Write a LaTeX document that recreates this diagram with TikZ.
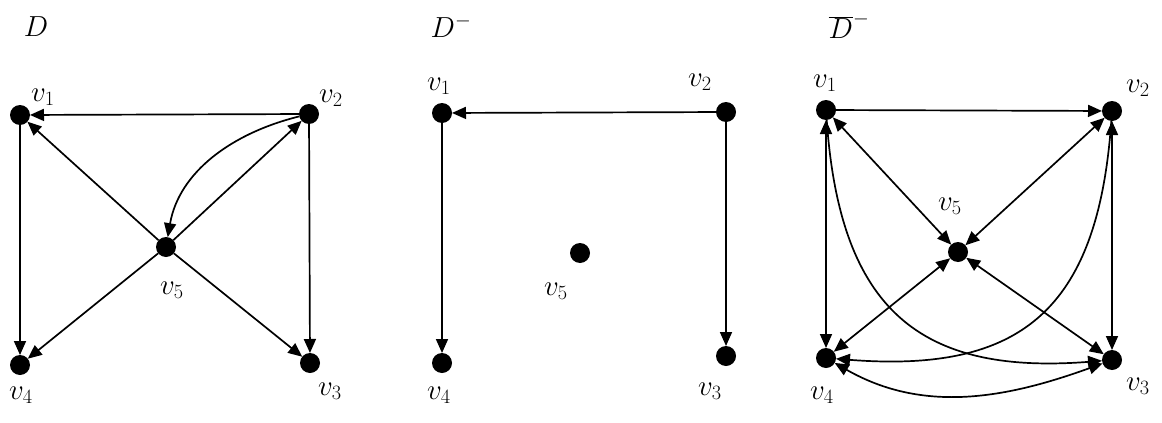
\documentclass[tikz,border=0pt]{standalone}
\usepackage{fix-cm}
\usetikzlibrary{arrows.meta}
\begin{document}
\begin{tikzpicture}[x=1pt, y=-1pt,
  dot/.style={circle, fill=black, inner sep=0pt, minimum size=20pt, outer sep=0pt},
  lbl/.style={font=\fontsize{29}{34}\selectfont, inner sep=0pt},
  arc/.style={line width=1.7pt, -{Triangle[length=14pt,width=12pt]}},
  both/.style={line width=1.7pt, {Triangle[length=14pt,width=12pt]}-{Triangle[length=14pt,width=12pt]}}]
\useasboundingbox (0,0) rectangle (1162,423);

% ---------- digraph D ----------
\node[lbl] (tD) at (36,27) {$D$};
\node[dot] (a1) at (20,115) {};
\node[dot] (a2) at (309,114) {};
\node[dot] (a3) at (310,363) {};
\node[dot] (a4) at (20,365) {};
\node[dot] (a5) at (166,247) {};
\node[lbl] (la1) at (43,97) {$v_1$};
\node[lbl] (la2) at (331,98) {$v_2$};
\node[lbl] (la3) at (330,391) {$v_3$};
\node[lbl] (la4) at (21,395) {$v_4$};
\node[lbl] (la5) at (172,290) {$v_5$};
\draw[arc] (a2) -- (a1);
\draw[arc] (a1) -- (a4);
\draw[arc] (a2) -- (a3);
\draw[arc] (a5) -- (a1);
\draw[arc] (a5) -- (a2);
\draw[arc] (a5) -- (a4);
\draw[arc] (a5) -- (a3);
\draw[arc] (a2) .. controls (232,133) and (179,172) .. (a5);

% ---------- digraph D^- ----------
\node[lbl] (tDm) at (451,26) {$D^{-}$};
\node[dot] (b1) at (442,113) {};
\node[dot] (b2) at (726,112) {};
\node[dot] (b3) at (726,356) {};
\node[dot] (b4) at (442,363) {};
\node[dot] (b5) at (580,253) {};
\node[lbl] (lb1) at (439,86) {$v_1$};
\node[lbl] (lb2) at (700,82) {$v_2$};
\node[lbl] (lb3) at (710,391) {$v_3$};
\node[lbl] (lb4) at (439,395) {$v_4$};
\node[lbl] (lb5) at (556,291) {$v_5$};
\draw[arc] (b2) -- (b1);
\draw[arc] (b1) -- (b4);
\draw[arc] (b2) -- (b3);

% ---------- complement of D^- ----------
\node[lbl] (tDc) at (849,26) {$\overline{D}^{-}$};
\node[dot] (c1) at (826,110) {};
\node[dot] (c2) at (1112,111) {};
\node[dot] (c3) at (1112,360) {};
\node[dot] (c4) at (826,358) {};
\node[dot] (c5) at (958,252) {};
\node[lbl] (lc1) at (825,83) {$v_1$};
\node[lbl] (lc2) at (1138,88) {$v_2$};
\node[lbl] (lc3) at (1138,386) {$v_3$};
\node[lbl] (lc4) at (822,395) {$v_4$};
\node[lbl] (lc5) at (950,206) {$v_5$};
\draw[arc] (c1) -- (c2);
\draw[both] (c1) -- (c4);
\draw[both] (c2) -- (c3);
\draw[both] (c1) -- (c5);
\draw[both] (c2) -- (c5);
\draw[both] (c4) -- (c5);
\draw[both] (c3) -- (c5);
\draw[arc] (c1) .. controls (840,310) and (920,375) .. (c3);
\draw[arc] (c2) .. controls (1098,312) and (1019,373) .. (c4);
\draw[both] (c4) .. controls (924,414) and (1007,398) .. (c3);
\end{tikzpicture}
\end{document}
